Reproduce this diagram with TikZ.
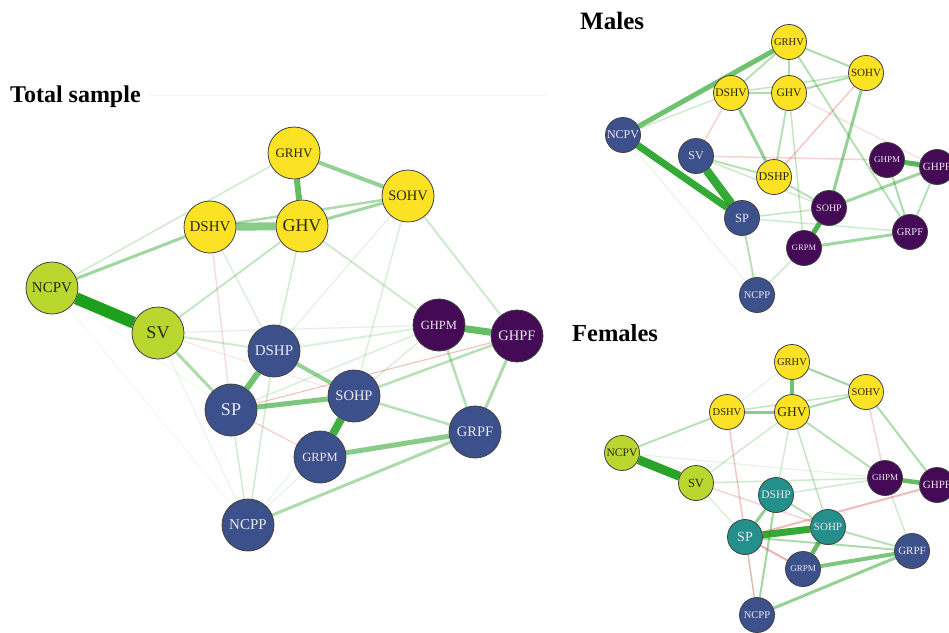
\documentclass[tikz,border=0pt]{standalone}
\usepackage{fontspec}
\setmainfont{Liberation Serif}
\usetikzlibrary{backgrounds}
\definecolor{vyel}{HTML}{FBE225}
\definecolor{vlim}{HTML}{BAD72F}
\definecolor{vteal}{HTML}{24908C}
\definecolor{vblue}{HTML}{3C518C}
\definecolor{vpur}{HTML}{440A55}
\definecolor{edgeG}{HTML}{129A12}
\definecolor{edgeR}{HTML}{D22020}
\definecolor{lblL}{HTML}{EDE6F2}
\definecolor{lblD}{HTML}{2A2A10}
\newcommand\labsz[1]{\fontsize{#1}{#1}\selectfont}
\tikzset{
  nd/.style={circle, draw=black!75, line width=0.8pt, inner sep=0pt},
  big/.style={nd, minimum size=52pt},
  sml/.style={nd, minimum size=35pt},
  yel/.style={fill=vyel, text=lblD},
  lim/.style={fill=vlim, text=lblD},
  tealnd/.style={fill=vteal, text=lblL},
  blu/.style={fill=vblue, text=lblL},
  pur/.style={fill=vpur, text=lblL},
  ttl/.style={anchor=base west, inner sep=0pt, font=\bfseries\labsz{24.5}},
  posedge/.style={draw=edgeG},
  negedge/.style={draw=edgeR}
}
\begin{document}
\begin{tikzpicture}[x=1pt, y=-1pt]
\useasboundingbox (0,0) rectangle (949,632);
\clip (0,0) rectangle (949,632);

% titles
\node[ttl, font=\bfseries\labsz{24}] (t1) at (10,102) {Total sample};
\node[ttl, font=\bfseries\labsz{25}] (t2) at (580,29) {Males};
\node[ttl] (t3) at (572,341) {Females};
\coordinate (sepA) at (148,95);
\coordinate (sepB) at (547,95);

% ---------------- Total sample ----------------
\node[big,yel,font=\labsz{13}]   (TGRHV) at (294,153) {GRHV};
\node[big,yel,font=\labsz{14.5}] (TSOHV) at (408,196) {SOHV};
\node[big,yel,font=\labsz{15}]   (TDSHV) at (210,227) {DSHV};
\node[big,yel,font=\labsz{18}]   (TGHV)  at (302,226) {GHV};
\node[big,lim,font=\labsz{15}]   (TNCPV) at (52,288)  {NCPV};
\node[big,lim,font=\labsz{18}]   (TSV)   at (158,333) {SV};
\node[big,pur,font=\labsz{12.5}] (TGHPM) at (439,325) {GHPM};
\node[big,pur,font=\labsz{14.5}] (TGHPF) at (517,336) {GHPF};
\node[big,blu,font=\labsz{15}]   (TDSHP) at (274,351) {DSHP};
\node[big,blu,font=\labsz{14.5}] (TSOHP) at (354,396) {SOHP};
\node[big,blu,font=\labsz{18}]   (TSP)   at (231,410) {SP};
\node[big,blu,font=\labsz{14.5}] (TGRPF) at (475,432) {GRPF};
\node[big,blu,font=\labsz{12.5}] (TGRPM) at (320,457) {GRPM};
\node[big,blu,font=\labsz{15}]   (TNCPP) at (248,525) {NCPP};

% ---------------- Males ----------------
\node[sml,yel,font=\labsz{10.5}] (MGRHV) at (789,42)  {GRHV};
\node[sml,yel,font=\labsz{11}]   (MSOHV) at (866,73)  {SOHV};
\node[sml,yel,font=\labsz{11.5}] (MDSHV) at (731,93)  {DSHV};
\node[sml,yel,font=\labsz{11.5}] (MGHV)  at (789,93)  {GHV};
\node[sml,blu,font=\labsz{12}]   (MNCPV) at (623,135) {NCPV};
\node[sml,blu,font=\labsz{12}]   (MSV)   at (696,156) {SV};
\node[sml,yel,font=\labsz{12}]   (MDSHP) at (774,177) {DSHP};
\node[sml,pur,font=\labsz{9}]    (MGHPM) at (887,160) {GHPM};
\node[sml,pur,font=\labsz{11}]   (MGHPF) at (937,167) {GHPF};
\node[sml,pur,font=\labsz{10}]   (MSOHP) at (829,208) {SOHP};
\node[sml,blu,font=\labsz{12.5}] (MSP)   at (742,218) {SP};
\node[sml,pur,font=\labsz{10.5}] (MGRPF) at (910,232) {GRPF};
\node[sml,pur,font=\labsz{8.5}]  (MGRPM) at (804,248) {GRPM};
\node[sml,blu,font=\labsz{10.5}] (MNCPP) at (757,295) {NCPP};

% ---------------- Females ----------------
\node[sml,yel,font=\labsz{10.5}] (FGRHV) at (792,362) {GRHV};
\node[sml,yel,font=\labsz{10.5}] (FSOHV) at (866,392) {SOHV};
\node[sml,yel,font=\labsz{10.5}] (FDSHV) at (727,412) {DSHV};
\node[sml,yel,font=\labsz{13.5}] (FGHV)  at (792,412) {GHV};
\node[sml,lim,font=\labsz{11.5}] (FNCPV) at (622,453) {NCPV};
\node[sml,lim,font=\labsz{12.5}] (FSV)   at (696,483) {SV};
\node[sml,pur,font=\labsz{9}]    (FGHPM) at (885,478) {GHPM};
\node[sml,pur,font=\labsz{11}]   (FGHPF) at (937,485) {GHPF};
\node[sml,tealnd,font=\labsz{11.5}](FDSHP) at (776,495) {DSHP};
\node[sml,tealnd,font=\labsz{11}]  (FSOHP) at (828,527) {SOHP};
\node[sml,tealnd,font=\labsz{14}]  (FSP)   at (745,537) {SP};
\node[sml,blu,font=\labsz{11}]   (FGRPF) at (912,551) {GRPF};
\node[sml,blu,font=\labsz{9}]    (FGRPM) at (803,569) {GRPM};
\node[sml,blu,font=\labsz{10.5}] (FNCPP) at (757,615) {NCPP};

\begin{scope}[on background layer]
\fill[white] (0,0) rectangle (949,632);
\draw[black!4, line width=1pt] (sepA) -- (sepB);

% Total sample edges
\foreach \a/\b/\w/\o in {
  NCPV/SP/1/0.07, NCPV/NCPP/1/0.06, SV/NCPP/1/0.1, NCPV/GRHV/1.5/0.2,
  SV/GHV/2/0.25, SV/DSHP/2/0.2, GHV/DSHP/1.5/0.2, GHV/GHPM/2/0.2,
  SOHV/GHPF/2/0.2, SOHV/SOHP/1.5/0.15, SOHV/DSHP/1.2/0.12, DSHV/DSHP/1.5/0.15,
  DSHP/GHPM/2/0.15, SP/NCPP/1.5/0.2, DSHP/NCPP/1.5/0.2, SP/GHPM/1.5/0.15,
  SV/GHPM/1.2/0.12, GRPM/NCPP/1/0.12, SOHP/GHPM/1.5/0.15, SOHP/NCPP/1/0.1}
  \draw[posedge, line width=\w pt, draw opacity=\o] (T\a) -- (T\b);
\foreach \a/\b/\w/\o in {GHPF/SP/1/0.3, DSHV/SP/1.5/0.15, SP/GRPM/1/0.25, SV/SOHP/1/0.12}
  \draw[negedge, line width=\w pt, draw opacity=\o] (T\a) -- (T\b);
\foreach \a/\b/\w/\o in {
  SOHP/GRPF/2.5/0.3, SOHP/GHPF/2.5/0.3, GHPM/GRPF/2.5/0.3, GHPF/GRPF/3/0.35,
  SV/SP/3/0.35, NCPP/GRPF/3/0.35, DSHP/SOHP/4/0.45, NCPV/DSHV/3/0.4,
  DSHV/SOHV/2.5/0.35, GHV/SOHV/3/0.4, GRHV/SOHV/4/0.45, GRPM/GRPF/5/0.5,
  SP/SOHP/5/0.55, DSHP/SP/6/0.6, SOHP/GRPM/8/0.8, GRHV/GHV/6/0.65,
  DSHV/GHV/8/0.5, GHPM/GHPF/7/0.65, NCPV/SV/12/0.95}
  \draw[posedge, line width=\w pt, draw opacity=\o] (T\a) -- (T\b);

% Males edges
\foreach \a/\b/\w/\o in {
  NCPV/NCPP/1/0.1, NCPV/DSHV/1.5/0.2, GRPM/NCPP/1.5/0.2, SP/GRPF/1.5/0.2,
  SV/SOHP/1.5/0.2, SP/SOHP/1.5/0.25, GHV/GRPM/1.5/0.25, GRHV/GRPF/2/0.3,
  GHV/DSHP/2/0.3, SV/DSHP/2/0.3, DSHP/SOHP/2/0.3, SP/NCPP/2/0.3,
  GHPF/GRPF/2/0.3, GHPM/GRPF/2/0.35, GRPM/GRPF/3/0.4, SOHP/GHPF/3/0.4,
  DSHV/SOHV/1.5/0.25, GHV/SOHV/2/0.35, DSHV/GHV/2/0.35, GRHV/DSHV/2/0.3,
  GRHV/GHV/2/0.35, GRHV/SOHV/2/0.35, DSHV/DSHP/3/0.45, SOHV/SOHP/3/0.45}
  \draw[posedge, line width=\w pt, draw opacity=\o] (M\a) -- (M\b);
\foreach \a/\b/\w/\o in {SV/GHPM/1.5/0.2, SOHV/DSHP/1.5/0.25, DSHV/SV/1.5/0.2, GHV/GHPF/1.2/0.15}
  \draw[negedge, line width=\w pt, draw opacity=\o] (M\a) -- (M\b);
\foreach \a/\b/\w/\o in {
  SOHP/GRPM/5/0.75, GHPM/GHPF/5/0.7, NCPV/GRHV/5/0.6, NCPV/SP/7/0.85, SV/SP/8.5/0.85}
  \draw[posedge, line width=\w pt, draw opacity=\o] (M\a) -- (M\b);

% Females edges
\foreach \a/\b/\w/\o in {
  GRHV/DSHV/1/0.12, NCPV/GHPM/1/0.12, SP/NCPP/1/0.15, SV/SP/1.5/0.15,
  SV/GHV/1.5/0.2, GHV/DSHP/1.5/0.2, DSHP/GHPM/1.5/0.2, GHPM/GRPF/1.5/0.2,
  SV/GHPM/1.5/0.2, GHV/SOHP/1.5/0.25, GHV/GHPM/2/0.3, SOHV/GHPF/2/0.35,
  NCPV/DSHV/2/0.3, DSHP/SOHP/2/0.3, DSHP/NCPP/2/0.4, SOHP/GRPF/2/0.3,
  SP/GRPF/2/0.35, DSHV/SOHV/1.5/0.25, GHV/SOHV/2/0.35, GRHV/SOHV/2/0.4}
  \draw[posedge, line width=\w pt, draw opacity=\o] (F\a) -- (F\b);
\foreach \a/\b/\w/\o in {SP/GHPF/2/0.3, SP/GRPM/2/0.35, DSHV/NCPP/1.5/0.25, SOHV/GHPM/1.5/0.2, SV/SOHP/1.5/0.2}
  \draw[negedge, line width=\w pt, draw opacity=\o] (F\a) -- (F\b);
\foreach \a/\b/\w/\o in {
  DSHP/SP/3/0.45, NCPP/GRPF/3/0.45, DSHV/GHV/3/0.5, GRHV/GHV/3.5/0.6,
  GRPM/GRPF/4/0.55, SOHP/GRPM/4.5/0.65, GHPM/GHPF/4.5/0.65, SP/SOHP/7/0.85, NCPV/SV/9/0.9}
  \draw[posedge, line width=\w pt, draw opacity=\o] (F\a) -- (F\b);
\end{scope}
\end{tikzpicture}
\end{document}
